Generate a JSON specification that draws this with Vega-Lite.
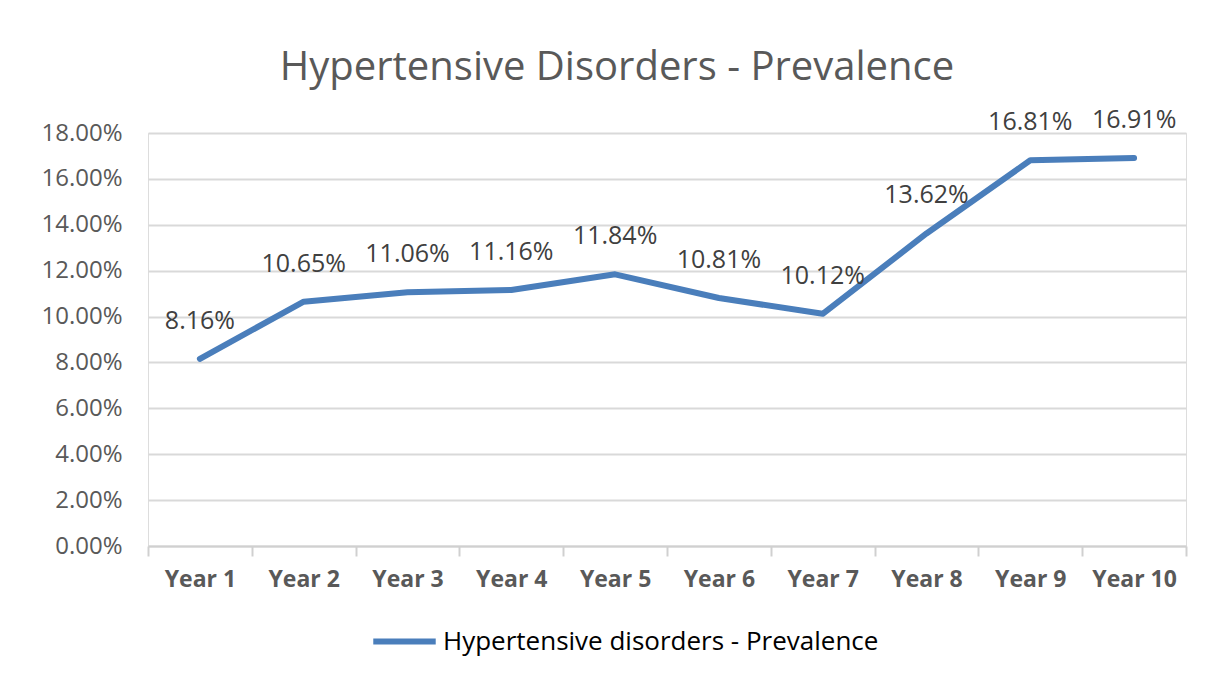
{
  "$schema": "https://vega.github.io/schema/vega-lite/v6.json",
  "width": 1038,
  "height": 413,
  "autosize": {"type": "none"},
  "padding": {"left": 148, "top": 133, "right": 22, "bottom": 143},
  "background": "white",
  "title": {
    "text": "Hypertensive Disorders - Prevalence",
    "font": "Open Sans",
    "fontSize": 40,
    "fontWeight": "normal",
    "color": "#595959",
    "offset": 20,
    "dx": -50,
    "anchor": "middle"
  },
  "data": {
    "values": [
      {"year": "Year 1", "value": 0.0816, "series": "Hypertensive disorders - Prevalence"},
      {"year": "Year 2", "value": 0.1065, "series": "Hypertensive disorders - Prevalence"},
      {"year": "Year 3", "value": 0.1106, "series": "Hypertensive disorders - Prevalence"},
      {"year": "Year 4", "value": 0.1116, "series": "Hypertensive disorders - Prevalence"},
      {"year": "Year 5", "value": 0.1184, "series": "Hypertensive disorders - Prevalence"},
      {"year": "Year 6", "value": 0.1081, "series": "Hypertensive disorders - Prevalence"},
      {"year": "Year 7", "value": 0.1012, "series": "Hypertensive disorders - Prevalence"},
      {"year": "Year 8", "value": 0.1362, "series": "Hypertensive disorders - Prevalence"},
      {"year": "Year 9", "value": 0.1681, "series": "Hypertensive disorders - Prevalence"},
      {"year": "Year 10", "value": 0.1691, "series": "Hypertensive disorders - Prevalence"}
    ]
  },
  "encoding": {
    "x": {
      "field": "year",
      "type": "nominal",
      "sort": null,
      "scale": {"type": "band", "paddingInner": 0, "paddingOuter": 0},
      "axis": {
        "title": null,
        "labelAngle": 0,
        "labelFont": "Open Sans",
        "labelFontSize": 23,
        "labelFontWeight": "bold",
        "labelColor": "#595959",
        "labelPadding": 12,
        "domainColor": "#d0d0d0",
        "domainWidth": 2,
        "tickColor": "#d0d0d0",
        "tickWidth": 2,
        "tickSize": 10,
        "tickBand": "extent",
        "grid": false
      }
    },
    "y": {
      "field": "value",
      "type": "quantitative",
      "scale": {"domain": [0, 0.18]},
      "axis": {
        "title": null,
        "format": ".2%",
        "values": [0, 0.02, 0.04, 0.06, 0.08, 0.1, 0.12, 0.14, 0.16, 0.18],
        "labelFont": "Open Sans",
        "labelFontSize": 24,
        "labelColor": "#595959",
        "labelPadding": 26,
        "ticks": false,
        "domain": false,
        "grid": true,
        "gridColor": "#d9d9d9",
        "gridWidth": 2
      }
    }
  },
  "layer": [
    {
      "mark": {"type": "line", "strokeWidth": 6, "strokeCap": "round", "strokeJoin": "round"},
      "encoding": {
        "color": {
          "field": "series",
          "type": "nominal",
          "scale": {"range": ["#4A7EBB"]},
          "legend": {
            "title": null,
            "orient": "none",
            "legendX": 222,
            "legendY": 474,
            "symbolType": "stroke",
            "symbolStrokeWidth": 6,
            "symbolSize": 3900,
            "labelFont": "Open Sans",
            "labelFontSize": 26,
            "labelColor": "#000000",
            "labelOffset": 4,
            "labelLimit": 700
          }
        }
      }
    },
    {
      "mark": {"type": "text", "dy": -38, "font": "Open Sans", "fontSize": 25, "color": "#404040"},
      "encoding": {
        "text": {"field": "value", "type": "quantitative", "format": ".2%"}
      }
    }
  ]
}
